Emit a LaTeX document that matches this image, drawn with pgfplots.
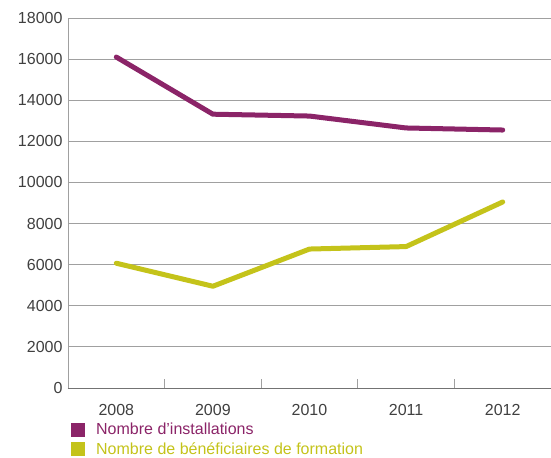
\documentclass[border=0pt]{standalone}
\usepackage{pgfplots}
\pgfplotsset{compat=1.18}
\usepackage{fontspec}
\setmainfont{Liberation Sans}
\definecolor{cpurple}{HTML}{8B2468}
\definecolor{cyellow}{HTML}{C4C31A}
\definecolor{tickgray}{HTML}{404040}
\definecolor{gridgray}{HTML}{A0A0A0}
\begin{document}
\begin{tikzpicture}
\useasboundingbox (-68bp,-70bp) rectangle (483bp,388bp);
\begin{axis}[
  scale only axis,
  width=483bp, height=370bp,
  xmin=-0.5, xmax=4.5,
  ymin=0, ymax=18000,
  axis x line=bottom, axis y line=left,
  axis line style={gridgray, line width=0.8pt, -},
  x axis line style={color=gray!90!black},
  xtick={0.5,1.5,2.5,3.5},
  xticklabels={},
  major tick length=9bp,
  tick align=inside,
  major x tick style={draw=gridgray, line width=0.8pt},
  extra x ticks={0,1,2,3,4},
  extra x tick labels={2008,2009,2010,2011,2012},
  extra x tick style={major tick length=0pt, grid=none, major x tick style={draw=none}},
  ytick={0,2000,...,18000},
  major y tick style={draw=none},
  ymajorgrids,
  grid style={gridgray, line width=0.8pt},
  scaled y ticks=false,
  /pgf/number format/assume math mode=true,
  /pgf/number format/1000 sep={},
  yticklabel style={font=\fontsize{16bp}{19bp}\selectfont, text=tickgray, xshift=-2bp},
  xticklabel style={font=\fontsize{16bp}{19bp}\selectfont, text=tickgray, yshift=-13bp},
  legend style={at={(0,0)}, anchor=north west, yshift=-33bp, xshift=3bp, draw=none, fill=none,
    font=\fontsize{16bp}{19bp}\selectfont, row sep=2bp, inner sep=0pt, cells={anchor=west}},
  legend cell align=left,
  legend image code/.code={\fill[#1, draw=none] (0bp,-7bp) rectangle (14bp,7bp);},
]
\addplot[cpurple, line width=5bp, line cap=round, line join=round] coordinates {(0,16100) (1,13320) (2,13230) (3,12650) (4,12550)};
\addlegendentry{\textcolor{cpurple}{\hspace{9bp}Nombre d’installations}}
\addplot[cyellow, line width=5bp, line cap=round, line join=round] coordinates {(0,6070) (1,4950) (2,6760) (3,6880) (4,9050)};
\addlegendentry{\textcolor{cyellow}{\hspace{9bp}Nombre de bénéficiaires de formation}}
\end{axis}
\end{tikzpicture}
\end{document}
